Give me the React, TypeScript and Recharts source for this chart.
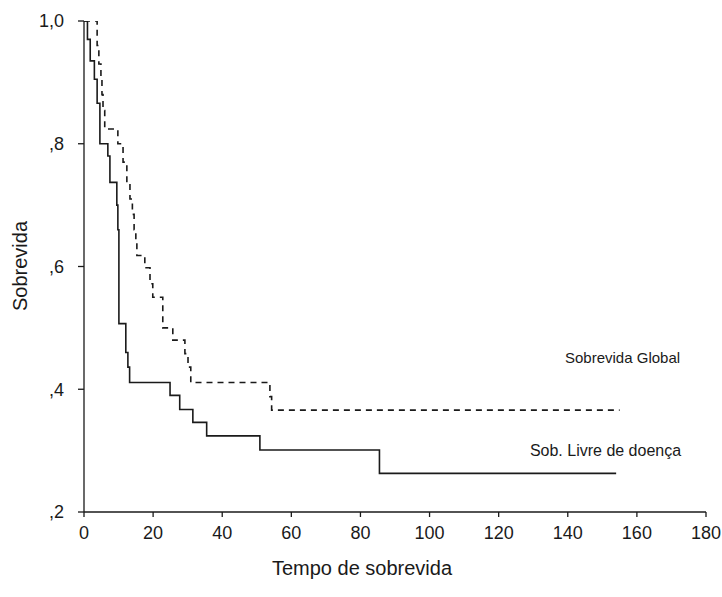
import { LineChart, Line, XAxis, YAxis, ReferenceDot } from 'recharts';

// Kaplan-Meier estimates (months, survival proportion)
const globalTimes = [0, 3.8, 4.3, 4.9, 5.2, 5.5, 6, 9.8, 11.3, 12.4, 13.3, 14, 14.5, 15, 15.3, 17.6, 19.1, 19.9, 22.8, 25.7, 29.2, 30.1, 30.9, 53.8, 54.3, 155];
const globalSurv = [1.0, 0.96, 0.93, 0.905, 0.88, 0.854, 0.824, 0.8, 0.77, 0.735, 0.71, 0.685, 0.66, 0.64, 0.618, 0.598, 0.572, 0.55, 0.5, 0.48, 0.458, 0.436, 0.411, 0.388, 0.366, 0.366];

const dfsTimes = [0, 1, 1.8, 3, 3.8, 4.6, 6.9, 7.5, 9.5, 9.8, 10.1, 12.1, 12.7, 13.2, 24.9, 27.7, 31.5, 35.5, 50.9, 85.5, 154];
const dfsSurv = [1.0, 0.97, 0.935, 0.905, 0.866, 0.8, 0.78, 0.737, 0.7, 0.66, 0.507, 0.46, 0.436, 0.411, 0.39, 0.367, 0.346, 0.324, 0.301, 0.263, 0.263];

const xTicks = [0, 20, 40, 60, 80, 100, 120, 140, 160, 180];
const yTicks = [0.2, 0.4, 0.6, 0.8, 1.0];

const globalData = globalTimes.map((t, i) => ({ t, s: globalSurv[i] }));
const dfsData = dfsTimes.map((t, i) => ({ t, s: dfsSurv[i] }));

const FONT = '"Liberation Sans", Arial, sans-serif';
const INK = '#1a1a1a';

const fmtY = (v: number) => (v === 1 ? '1,0' : ',' + Math.round(v * 10));

export default function App() {
  return (
    <div style={{ position: 'absolute', left: 0, top: 0, width: 722, height: 597, overflow: 'visible' }}>
      <LineChart
        width={722}
        height={597}
        margin={{ top: 21, right: 16, left: 0, bottom: 55 }}
        style={{ overflow: 'visible' }}
      >
        <XAxis
          type="number"
          dataKey="t"
          domain={[0, 180]}
          ticks={xTicks}
          allowDataOverflow
          stroke={INK}
          strokeWidth={1.3}
          tickSize={5}
          tickMargin={9}
          height={30}
          interval={0}
          tick={{ fill: INK, fontSize: 18, fontFamily: FONT }}
          label={{
            content: () => (
              <text x={362} y={575} textAnchor="middle" fill={INK} fontSize={20} fontFamily={FONT}>
                Tempo de sobrevida
              </text>
            ),
          }}
        />
        <YAxis
          type="number"
          domain={[0.2, 1.0]}
          ticks={yTicks}
          allowDataOverflow
          tickFormatter={fmtY}
          stroke={INK}
          strokeWidth={1.3}
          tickSize={6}
          tickMargin={14}
          width={84}
          tick={{ fill: INK, fontSize: 18, fontFamily: FONT }}
          label={{
            content: () => (
              <text
                x={20}
                y={266}
                transform="rotate(-90 20 266)"
                textAnchor="middle"
                dominantBaseline="central"
                fill={INK}
                fontSize={20}
                fontFamily={FONT}
              >
                Sobrevida
              </text>
            ),
          }}
        />
        <Line
          data={globalData}
          dataKey="s"
          type="stepAfter"
          stroke={INK}
          strokeWidth={1.6}
          strokeDasharray="6 5"
          dot={false}
          isAnimationActive={false}
        />
        <Line
          data={dfsData}
          dataKey="s"
          type="stepAfter"
          stroke={INK}
          strokeWidth={1.6}
          dot={false}
          isAnimationActive={false}
        />
        <ReferenceDot
          x={172.5}
          y={0.452}
          r={0}
          fill="none"
          stroke="none"
          label={{ value: 'Sobrevida Global', position: 'left', offset: 0, fill: INK, fontSize: 15, fontFamily: FONT }}
        />
        <ReferenceDot
          x={172.8}
          y={0.3}
          r={0}
          fill="none"
          stroke="none"
          label={{ value: 'Sob. Livre de doença', position: 'left', offset: 0, fill: INK, fontSize: 16, fontFamily: FONT }}
        />
      </LineChart>
    </div>
  );
}
